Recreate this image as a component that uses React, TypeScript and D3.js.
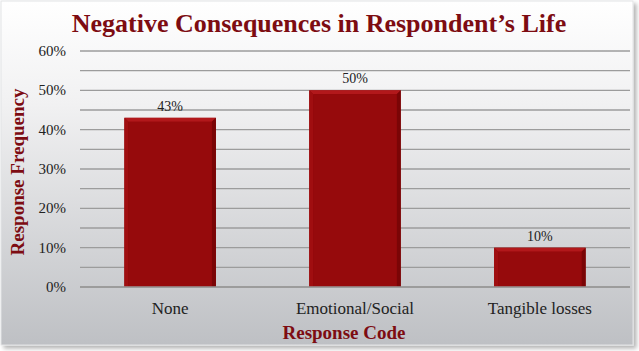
import { useRef, useEffect } from "react";
import * as d3 from "d3";

const categories = ["None", "Emotional/Social", "Tangible losses"];
const values = [0.43, 0.5, 0.1];
const yTicks = [0, 0.1, 0.2, 0.3, 0.4, 0.5, 0.6];
const minorTicks = [0.05, 0.15, 0.25, 0.35, 0.45, 0.55];

const title = "Negative Consequences in Respondent\u2019s Life";
const xTitle = "Response Code";
const yTitle = "Response Frequency";

function App() {
  const svgRef = useRef<SVGSVGElement>(null);

  useEffect(() => {
    const w = 639;
    const h = 351;
    const font = "'Liberation Serif', 'Times New Roman', serif";
    const red = "#7d0c12";

    const svg = d3.select(svgRef.current).attr("width", w).attr("height", h);
    svg.selectAll("*").remove();

    const defs = svg.append("defs");
    const bg = defs
      .append("linearGradient")
      .attr("id", "bg")
      .attr("x1", 0)
      .attr("y1", 0)
      .attr("x2", 0)
      .attr("y2", 1);
    bg.append("stop").attr("offset", "0%").attr("stop-color", "#ffffff");
    bg.append("stop").attr("offset", "30%").attr("stop-color", "#f1f1f2");
    bg.append("stop").attr("offset", "100%").attr("stop-color", "#bec0c4");

    const shadow = defs.append("filter").attr("id", "shadow").attr("x", "-5%").attr("y", "-5%").attr("width", "110%").attr("height", "115%");
    shadow.append("feGaussianBlur").attr("in", "SourceAlpha").attr("stdDeviation", 2);
    shadow.append("feOffset").attr("dx", 3).attr("dy", 3).attr("result", "off");
    shadow
      .append("feComponentTransfer")
      .append("feFuncA")
      .attr("type", "linear")
      .attr("slope", 0.3);
    const merge = shadow.append("feMerge");
    merge.append("feMergeNode");
    merge.append("feMergeNode").attr("in", "SourceGraphic");

    // Card
    svg
      .append("rect")
      .attr("x", 1)
      .attr("y", 1)
      .attr("width", 632)
      .attr("height", 344)
      .attr("fill", "url(#bg)")
      .attr("stroke", "#e2e3e5")
      .attr("filter", "url(#shadow)");

    // Scales
    const x = d3
      .scaleBand()
      .domain(categories)
      .range([80, 630])
      .paddingInner(0.505)
      .paddingOuter(0.24);

    const y = d3.scaleLinear().domain([0, 0.6]).range([287, 51]);

    // Grid
    const grid = svg.append("g");
    grid
      .selectAll("line")
      .data([...yTicks, ...minorTicks])
      .join("line")
      .attr("x1", 80)
      .attr("x2", 630)
      .attr("y1", (d) => y(d))
      .attr("y2", (d) => y(d))
      .attr("stroke", "#9c9c9c")
      .attr("stroke-width", 1.4);

    // Y axis labels
    svg
      .append("g")
      .selectAll("text")
      .data(yTicks)
      .join("text")
      .attr("x", 66)
      .attr("y", (d) => y(d) + 5)
      .attr("text-anchor", "end")
      .attr("font-family", font)
      .attr("font-size", 15)
      .attr("fill", "#222")
      .text((d) => d3.format(".0%")(d));

    // Bars with bevel
    const bars = svg
      .append("g")
      .selectAll("g")
      .data(values)
      .join("g");

    const bw = x.bandwidth();
    const bev = 4;
    bars
      .append("rect")
      .attr("x", (d, i) => x(categories[i])!)
      .attr("y", (d) => y(d))
      .attr("width", bw)
      .attr("height", (d) => y(0) - y(d))
      .attr("fill", "#8c0709");
    // top bevel
    bars
      .append("path")
      .attr("d", (d, i) => {
        const x0 = x(categories[i])!;
        const y0 = y(d);
        return `M${x0},${y0}H${x0 + bw}L${x0 + bw - bev},${y0 + bev}H${x0 + bev}Z`;
      })
      .attr("fill", "#b2181b");
    // left bevel
    bars
      .append("path")
      .attr("d", (d, i) => {
        const x0 = x(categories[i])!;
        const y0 = y(d);
        return `M${x0},${y0}L${x0 + bev},${y0 + bev}V${y(0)}H${x0}Z`;
      })
      .attr("fill", "#a00e10");
    // right bevel
    bars
      .append("path")
      .attr("d", (d, i) => {
        const x0 = x(categories[i])! + bw;
        const y0 = y(d);
        return `M${x0},${y0}L${x0 - bev},${y0 + bev}V${y(0)}H${x0}Z`;
      })
      .attr("fill", "#7a0506");
    bars
      .append("rect")
      .attr("x", (d, i) => x(categories[i])! + bev)
      .attr("y", (d) => y(d) + bev)
      .attr("width", bw - bev * 2)
      .attr("height", (d) => y(0) - y(d) - bev)
      .attr("fill", "#960a0c");

    // Baseline
    svg
      .append("line")
      .attr("x1", 80)
      .attr("x2", 630)
      .attr("y1", y(0))
      .attr("y2", y(0))
      .attr("stroke", "#999")
      .attr("stroke-width", 1.4);

    // Data labels
    svg
      .append("g")
      .selectAll("text")
      .data(values)
      .join("text")
      .attr("x", (d, i) => x(categories[i])! + bw / 2)
      .attr("y", (d) => y(d) - 7)
      .attr("text-anchor", "middle")
      .attr("font-family", font)
      .attr("font-size", 14)
      .attr("fill", "#222")
      .text((d) => d3.format(".0%")(d));

    // X labels
    svg
      .append("g")
      .selectAll("text")
      .data(categories)
      .join("text")
      .attr("x", (d) => x(d)! + bw / 2)
      .attr("y", 314)
      .attr("text-anchor", "middle")
      .attr("font-family", font)
      .attr("font-size", 17)
      .attr("fill", "#222")
      .text((d) => d);

    // Titles
    svg
      .append("text")
      .attr("x", 319)
      .attr("y", 32)
      .attr("text-anchor", "middle")
      .attr("font-family", font)
      .attr("font-weight", "bold")
      .attr("font-size", 26)
      .attr("fill", red)
      .text(title);

    svg
      .append("text")
      .attr("x", 344)
      .attr("y", 339)
      .attr("text-anchor", "middle")
      .attr("font-family", font)
      .attr("font-weight", "bold")
      .attr("font-size", 19)
      .attr("fill", red)
      .text(xTitle);

    svg
      .append("text")
      .attr("transform", "translate(24,172) rotate(-90)")
      .attr("text-anchor", "middle")
      .attr("font-family", font)
      .attr("font-weight", "bold")
      .attr("font-size", 19)
      .attr("fill", red)
      .text(yTitle);
  }, []);

  return (
    <svg
      ref={svgRef}
      style={{ position: "absolute", left: 0, top: 0, display: "block" }}
    ></svg>
  );
}

export default App;
